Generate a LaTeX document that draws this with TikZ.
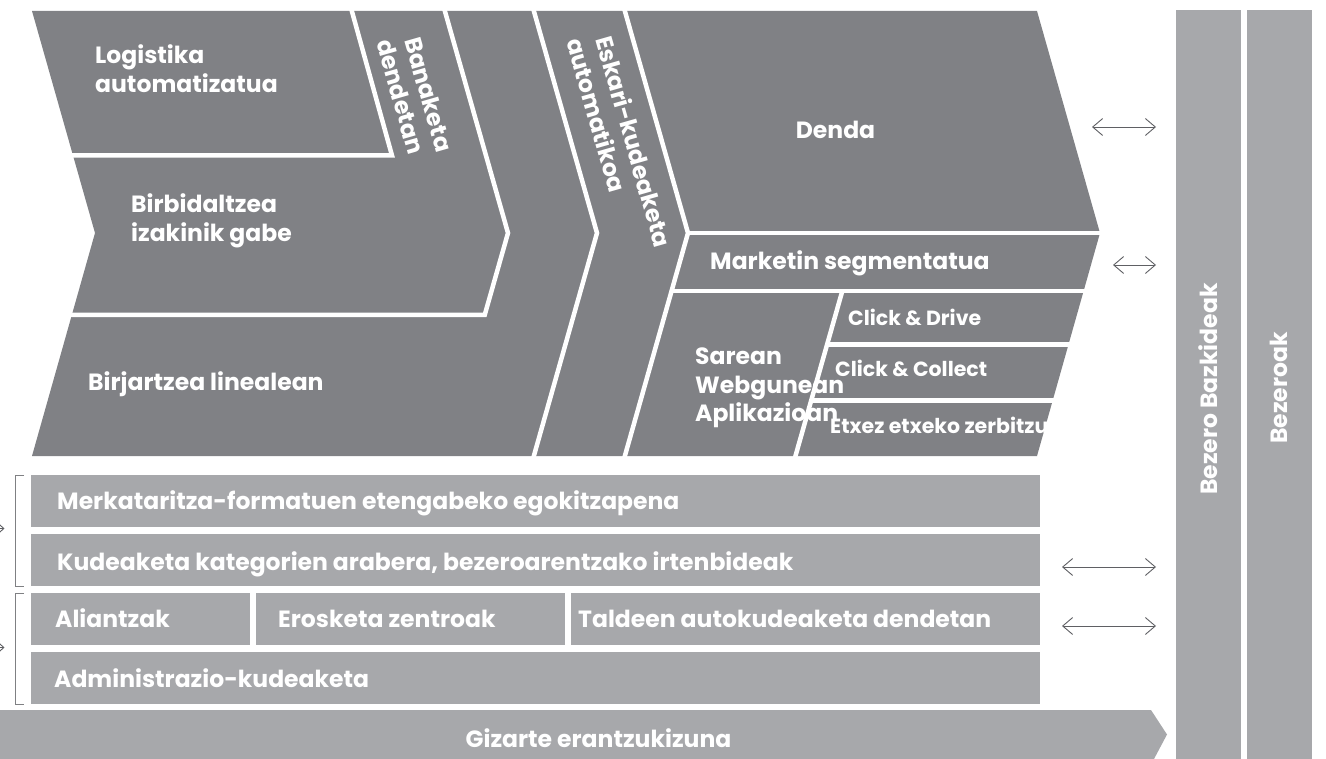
\documentclass[tikz,border=0pt]{standalone}
\usepackage{fontspec}
\setmainfont{Poppins}
\usetikzlibrary{arrows.meta}
\definecolor{dk}{HTML}{808185}
\definecolor{lt}{HTML}{A7A8AB}
\definecolor{ln}{HTML}{5F6064}
\begin{document}
\begin{tikzpicture}[x=1pt,y=-1pt,
  lbl/.style={text=white, font=\bfseries\fontsize{23.5}{28}\selectfont, inner sep=0pt, anchor=base west},
  sml/.style={text=white, font=\bfseries\fontsize{20.5}{24}\selectfont, inner sep=0pt, anchor=base west},
  sep/.style={draw=white, line width=4.5pt},
  box/.style={fill=lt, draw=none},
  dbl/.style={draw=ln, line width=0.9pt, {Straight Barb[length=10pt,width=17pt]}-{Straight Barb[length=10pt,width=17pt]}},
  brk/.style={draw=ln!80, line width=0.8pt},
  tip/.style={draw=ln, line width=0.9pt, -{Straight Barb[length=5pt,width=9pt]}},
]
\useasboundingbox (0,0) rectangle (1326,759);
% ---- chevron area
\fill[dk] (32,11) -- (1037,11) -- (1100,233) -- (1037,456) -- (32,456) -- (95,233) -- cycle;
\draw[sep] (60,155.5) -- (392,155.5) -- (351,8);
\draw[sep] (60,315) -- (484.7,315) -- (508,233) -- (444,8);
\draw[sep] (533,8) -- (597,233) -- (533,459);
\draw[sep] (624,8) -- (688,233) -- (624,459);
\draw[sep] (688,233) -- (1106,233);
\draw[sep] (671.5,291) -- (1106,291);
\draw[sep] (842.3,291) -- (794.6,459);
\draw[sep] (827.1,344.5) -- (1106,344.5);
\draw[sep] (811.2,400.5) -- (1106,400.5);
% ---- labels in chevrons
\node[lbl] (log1) at (95,64) {Logistika};
\node[lbl] (log2) at (95,92.5) {automatizatua};
\node[lbl] (bir1) at (131,213) {Birbidaltzea};
\node[lbl] (bir2) at (131,242) {izakinik gabe};
\node[lbl] (birj) at (88,390.5) {Birjartzea linealean};
\node[lbl, rotate=-74] (ban1) at (404,40) {Banaketa};
\node[lbl, rotate=-74] (ban2) at (376,42) {dendetan};
\node[lbl, rotate=-74] (esk1) at (595,39) {Eskari-kudeaketa};
\node[lbl, rotate=-74] (esk2) at (566,41) {automatikoa};
\node[lbl, anchor=base] (denda) at (835.5,139) {Denda};
\node[lbl] (mark) at (710,270) {Marketin segmentatua};
\node[lbl] (sar1) at (695,365) {Sarean};
\node[lbl] (sar2) at (695,393) {Webgunean};
\node[lbl] (sar3) at (695,421.5) {Aplikazioan};
\node[sml] (cdrive) at (848,326) {Click \& Drive};
\node[sml] (ccoll) at (835,377) {Click \& Collect};
\begin{scope}
\clip (811.2,402) -- (1052,402) -- (1037,456) -- (794.6,456) -- cycle;
\node[sml] (etxez) at (830,433) {Etxez etxeko zerbitzua};
\end{scope}
% ---- lower boxes
\path[box] (31,475) rectangle (1040,527);
\path[box] (31,534) rectangle (1040,586);
\path[box] (31,593) rectangle (250,645);
\path[box] (256,593) rectangle (565,645);
\path[box] (571,593) rectangle (1040,645);
\path[box] (31,652) rectangle (1040,704);
\path[box] (0,710) -- (1151,710) -- (1167,734.5) -- (1154,759) -- (0,759) -- cycle;
\node[lbl] (merk) at (57,509) {Merkataritza-formatuen etengabeko egokitzapena};
\node[lbl] (kud) at (57,570) {Kudeaketa kategorien arabera, bezeroarentzako irtenbideak};
\node[lbl] (ali) at (55,627) {Aliantzak};
\node[lbl] (eros) at (278,627) {Erosketa zentroak};
\node[lbl] (tald) at (578,627) {Taldeen autokudeaketa dendetan};
\node[lbl] (admin) at (54,687) {Administrazio-kudeaketa};
\node[lbl, anchor=base] (giz) at (598.5,747) {Gizarte erantzukizuna};
% ---- right columns
\path[box] (1176,10) rectangle (1241,759);
\path[box] (1247,10) rectangle (1312,759);
\node[lbl, anchor=center, rotate=90] (bazk) at (1208,389) {Bezero Bazkideak};
\node[lbl, anchor=center, rotate=90] (bez) at (1279,388) {Bezeroak};
% ---- arrows
\coordinate (a1l) at (1092,127); \coordinate (a1r) at (1156,127);
\coordinate (a2l) at (1113,265); \coordinate (a2r) at (1156,265);
\coordinate (a3l) at (1062,567); \coordinate (a3r) at (1156,567);
\coordinate (a4l) at (1062,626); \coordinate (a4r) at (1156,626);
\draw[dbl] (a1l) -- (a1r);
\draw[dbl] (a2l) -- (a2r);
\draw[dbl] (a3l) -- (a3r);
\draw[dbl] (a4l) -- (a4r);
% ---- brackets
\draw[brk] (24,475) -- (15,475) -- (15,586) -- (24,586);
\draw[brk] (24,593) -- (15,593) -- (15,704) -- (24,704);
\coordinate (t1s) at (-30,528.5); \coordinate (t1e) at (4.5,528.5);
\coordinate (t2s) at (-30,647.5); \coordinate (t2e) at (4.5,647.5);
\draw[tip] (t1s) -- (t1e);
\draw[tip] (t2s) -- (t2e);
\end{tikzpicture}
\end{document}
